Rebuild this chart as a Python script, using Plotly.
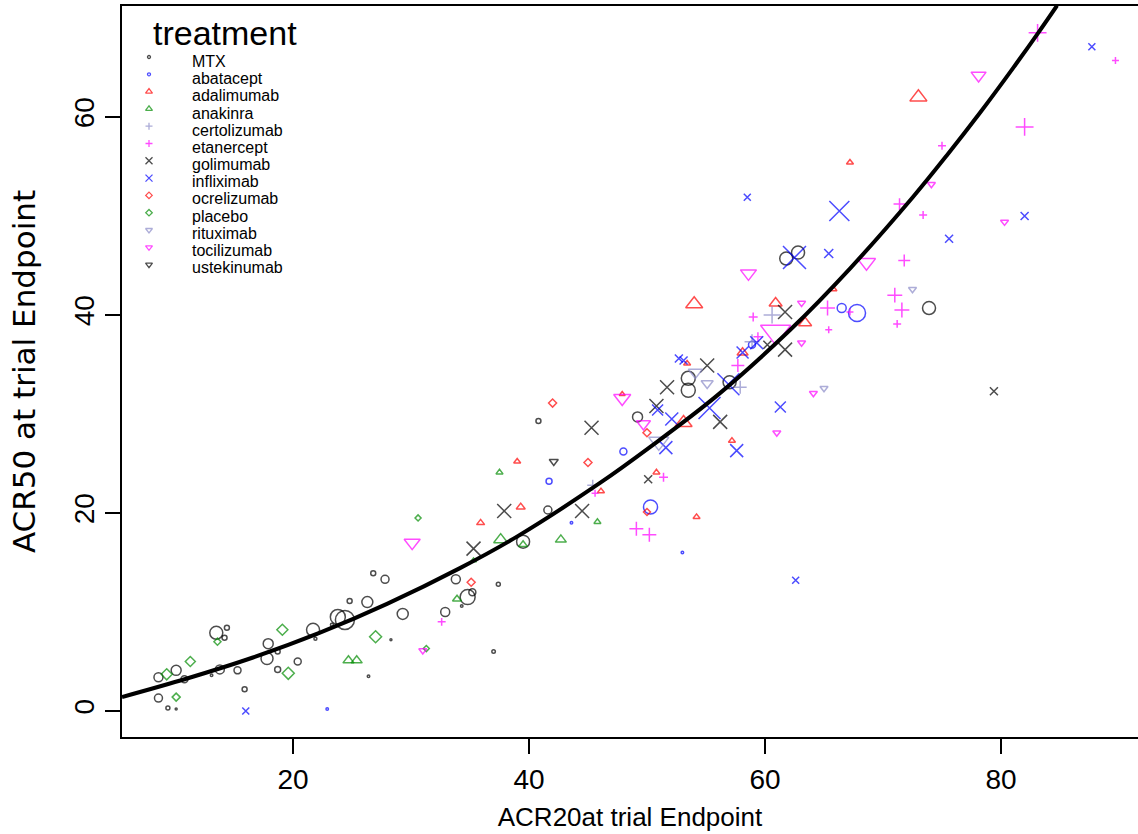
import plotly.graph_objects as go

# ---------------- data ----------------
treatments = ["MTX", "abatacept", "adalimumab", "anakinra", "certolizumab", "etanercept",
              "golimumab", "infliximab", "ocrelizumab", "placebo", "rituximab",
              "tocilizumab", "ustekinumab"]

# *_w : relative trial weight (drives symbol size)
mtx_x = [8.6, 8.6, 9.4, 10.1, 10.8, 13.5, 14.4, 14.2, 13.8, 15.3, 13.1, 15.9, 17.9, 18.7, 17.8,
         20.4, 18.7, 21.7, 21.9, 23.8, 24.4, 23.3, 24.8, 26.3, 26.8, 27.8, 29.3, 32.9, 28.3, 26.4,
         10.1, 33.8, 34.8, 35.2, 34.3, 37.4, 37.0, 39.5, 41.6, 40.8, 49.2, 53.5, 53.5, 57.0, 61.8,
         62.8, 73.9]
mtx_y = [3.4, 1.3, 0.3, 4.1, 3.2, 7.9, 8.4, 7.4, 4.2, 4.1, 3.6, 2.2, 6.8, 6.0, 5.3,
         5.0, 4.2, 8.2, 7.3, 9.5, 9.2, 8.7, 11.1, 11.0, 13.9, 13.3, 9.8, 10.0, 7.2, 3.5,
         0.2, 13.3, 11.5, 12.0, 10.6, 12.8, 6.0, 17.1, 20.3, 29.3, 29.7, 33.6, 32.4, 33.2, 45.7,
         46.3, 40.7]
mtx_w = [0.9, 0.8, 0.4, 1.0, 0.7, 1.3, 0.5, 0.5, 0.9, 0.7, 0.25, 0.5, 1.0, 0.5, 1.2,
         0.7, 0.6, 1.3, 0.3, 1.5, 1.9, 0.3, 0.5, 1.1, 0.5, 0.8, 1.1, 0.9, 0.2, 0.25,
         0.2, 0.9, 1.5, 0.7, 0.25, 0.4, 0.35, 1.3, 0.8, 0.5, 1.0, 1.4, 1.4, 1.3, 1.3,
         1.3, 1.3]

aba_x = [22.9, 41.7, 48.0, 43.6, 50.3, 53.0, 66.5, 67.8, 58.9]
aba_y = [0.2, 23.2, 26.2, 19.0, 20.6, 16.0, 40.7, 40.2, 37.0]
aba_w = [0.25, 0.6, 0.7, 0.25, 1.4, 0.25, 0.9, 1.7, 0.7]

ada_x = [35.9, 39.0, 39.3, 46.1, 47.9, 50.8, 54.2, 53.1, 53.4, 54.0, 57.2, 58.1, 60.9, 63.4, 65.8, 67.2, 73.0]
ada_y = [19.0, 25.2, 20.6, 22.2, 32.0, 24.1, 19.6, 29.1, 35.1, 41.1, 27.3, 36.2, 41.2, 39.2, 42.6, 55.4, 62.0]
ada_w = [0.8, 0.7, 0.9, 0.7, 0.6, 0.7, 0.7, 1.7, 0.7, 1.7, 0.7, 1.1, 1.3, 1.3, 0.7, 0.7, 1.7]

ana_x = [24.7, 25.4, 33.9, 35.3, 37.5, 37.6, 39.5, 42.7, 45.8]
ana_y = [5.1, 5.1, 11.3, 15.2, 24.1, 17.3, 16.8, 17.3, 19.1]
ana_w = [1.1, 1.1, 0.9, 0.6, 0.7, 1.4, 0.9, 1.1, 0.7]

cer_x = [45.4, 60.6, 58.9, 57.9]
cer_y = [22.8, 40.0, 37.3, 32.7]
cer_w = [1.1, 1.7, 1.5, 1.3]

eta_x = [32.6, 51.4, 45.6, 49.1, 50.2, 57.7, 59.0, 59.4, 65.3, 67.2, 65.4, 71.0, 71.6, 71.2,
         71.8, 71.4, 73.4, 75.0, 82.0, 83.1, 89.7]
eta_y = [9.0, 23.6, 22.0, 18.4, 17.8, 34.9, 39.8, 37.8, 40.7, 40.3, 38.5, 42.0, 40.5, 39.1,
         45.5, 51.2, 50.1, 57.1, 59.0, 68.5, 65.7]
eta_w = [0.8, 0.9, 0.7, 1.4, 1.4, 1.3, 0.9, 0.9, 1.5, 0.7, 0.7, 1.5, 1.5, 0.8,
         1.2, 1.2, 0.8, 0.8, 1.8, 1.8, 0.7]

gol_x = [35.3, 37.9, 44.5, 45.3, 50.1, 50.8, 51.7, 55.1, 56.2, 60.2, 61.7, 61.7, 79.4]
gol_y = [16.4, 20.2, 20.2, 28.6, 23.4, 30.8, 32.7, 34.9, 29.2, 37.0, 40.3, 36.5, 32.3]
gol_w = [1.4, 1.4, 1.4, 1.4, 0.8, 1.4, 1.4, 1.4, 1.4, 0.8, 1.4, 1.4, 0.8]

inf_x = [16.0, 50.9, 51.6, 52.1, 52.7, 53.1, 55.3, 56.9, 57.6, 58.1, 59.3, 58.5, 61.3, 62.6,
         62.5, 65.4, 66.3, 75.6, 82.0, 87.7]
inf_y = [0.0, 30.4, 26.6, 29.5, 35.6, 35.4, 30.6, 33.0, 26.3, 36.2, 37.2, 51.9, 30.7, 13.2,
         45.8, 46.2, 50.5, 47.7, 50.0, 67.1]
inf_w = [0.7, 1.1, 1.3, 1.3, 0.8, 0.8, 2.2, 2.2, 1.3, 1.2, 1.3, 0.7, 1.1, 0.7,
         2.3, 0.9, 2.0, 0.8, 0.8, 0.7]

ocr_x = [35.1, 42.0, 45.0, 50.0, 50.0]
ocr_y = [13.0, 31.1, 25.1, 28.1, 20.1]
ocr_w = [0.8, 0.8, 0.8, 0.8, 0.7]

pla_x = [9.3, 10.1, 11.3, 13.6, 19.1, 19.6, 27.0, 30.6, 31.3]
pla_y = [3.7, 1.4, 5.0, 7.0, 8.2, 3.8, 7.5, 19.5, 6.3]
pla_w = [1.1, 0.8, 1.0, 0.7, 1.1, 1.2, 1.2, 0.6, 0.6]

rit_x = [51.0, 54.1, 55.1, 72.5, 65.0]
rit_y = [27.2, 34.2, 33.1, 42.6, 32.6]
rit_w = [2.0, 1.4, 1.2, 0.8, 0.8]

toc_x = [30.1, 31.0, 47.9, 49.7, 58.6, 60.9, 61.0, 63.1, 63.1, 64.1, 68.6, 74.1, 78.1, 80.3]
toc_y = [17.0, 6.1, 31.6, 29.0, 44.2, 38.3, 28.1, 41.2, 37.2, 32.1, 45.3, 53.2, 64.2, 49.4]
toc_w = [1.6, 0.8, 1.7, 1.4, 1.6, 3.0, 0.8, 0.8, 0.8, 0.8, 1.8, 0.8, 1.5, 0.8]

ust_x = [42.1]
ust_y = [25.2]
ust_w = [0.9]

# fitted curve
curve_x = [5.51, 11.02, 16.61, 22.29, 27.97, 34.15, 38.98, 46.02, 50.25, 55.93, 62.12,
           67.20, 72.54, 75.42, 78.22, 81.02, 83.14, 84.75]
curve_y = [1.41, 3.28, 5.40, 7.91, 10.82, 14.43, 17.61, 23.03, 26.65, 31.85, 38.48,
           44.69, 51.92, 56.14, 60.43, 64.94, 68.48, 71.26]

x_ticks = [20, 40, 60, 80]
y_ticks = [0, 20, 40, 60]

# ---------------- styling ----------------
BLACK, BLUE, RED, GREEN = "#000000", "#0000FF", "#FF0000", "#008B00"
SLATE, MAGENTA = "#8A8AC8", "#FF00FF"

series = [
    (mtx_x, mtx_y, mtx_w, "circle-open", BLACK),
    (aba_x, aba_y, aba_w, "circle-open", BLUE),
    (ada_x, ada_y, ada_w, "triangle-up-open", RED),
    (ana_x, ana_y, ana_w, "triangle-up-open", GREEN),
    (cer_x, cer_y, cer_w, "cross-thin", SLATE),
    (eta_x, eta_y, eta_w, "cross-thin", MAGENTA),
    (gol_x, gol_y, gol_w, "x-thin", BLACK),
    (inf_x, inf_y, inf_w, "x-thin", BLUE),
    (ocr_x, ocr_y, ocr_w, "diamond-open", RED),
    (pla_x, pla_y, pla_w, "diamond-open", GREEN),
    (rit_x, rit_y, rit_w, "triangle-down-open", SLATE),
    (toc_x, toc_y, toc_w, "triangle-down-open", MAGENTA),
    (ust_x, ust_y, ust_w, "triangle-down-open", BLACK),
]
# pixel scale per unit weight, adjusted so each glyph's visual width matches
sym_scale = {"circle-open": 10.0, "triangle-up-open": 8.7, "triangle-down-open": 8.7,
             "cross-thin": 7.1, "x-thin": 10.0, "diamond-open": 7.7}

FONT = "Liberation Sans, Arial, sans-serif"

fig = go.Figure()

for name, (xs, ys, ws, sym, col) in zip(treatments, series):
    fig.add_trace(go.Scatter(
        x=xs, y=ys, mode="markers", name=name, showlegend=False,
        marker=dict(symbol=sym, size=[w * sym_scale[sym] for w in ws], color=col,
                    line=dict(color=col, width=1.5)),
        hoverinfo="x+y+name"))

fig.add_trace(go.Scatter(x=curve_x, y=curve_y, mode="lines",
                         line=dict(color="black", width=4, shape="spline", smoothing=1.0),
                         showlegend=False, hoverinfo="skip"))

# ---------------- hand-placed legend (pixel-unit overlay axes) ----------------
leg_sym_x, leg_sym_y0, leg_row = 149, 57, 17.3
leg_txt_x, leg_txt_y0 = 190, 61.5
leg_sizes = {"circle-open": 3, "triangle-up-open": 6, "triangle-down-open": 6,
             "cross-thin": 5, "x-thin": 7, "diamond-open": 5}
fig.add_trace(go.Scatter(
    x=[leg_sym_x] * len(treatments),
    y=[leg_sym_y0 + leg_row * i for i in range(len(treatments))],
    xaxis="x2", yaxis="y2", mode="markers", showlegend=False, hoverinfo="skip",
    marker=dict(symbol=[s[3] for s in series], size=[leg_sizes[s[3]] for s in series],
                color=[s[4] for s in series], line=dict(color=[s[4] for s in series], width=1.3))))

annotations = [dict(text="treatment", x=151, y=33, xref="x2", yref="y2", xanchor="left", yanchor="middle",
                    showarrow=False, font=dict(family=FONT, size=34, color="black"))]
for i, name in enumerate(treatments):
    annotations.append(dict(text=name, x=leg_txt_x, y=leg_txt_y0 + 17.17 * i, xref="x2", yref="y2",
                            xanchor="left", yanchor="middle", showarrow=False,
                            font=dict(family=FONT, size=16, color="black")))

fig.update_layout(
    width=1138, height=834,
    margin=dict(l=122, r=0, t=6, b=97),
    paper_bgcolor="white", plot_bgcolor="white",
    showlegend=False,
    annotations=annotations,
    xaxis=dict(range=[5.51, 91.61], tickvals=x_ticks, ticks="outside", ticklen=15, tickwidth=1.5,
               tickcolor="black", showline=True, linewidth=2, linecolor="black", mirror=True,
               showgrid=False, zeroline=False, tickfont=dict(family=FONT, size=28, color="black"),
               ticklabelstandoff=1,
               title=dict(text="ACR20at trial Endpoint", font=dict(family=FONT, size=26, color="black"),
                          standoff=14)),
    yaxis=dict(range=[-2.63, 71.21], tickvals=y_ticks, ticks="outside", ticklen=15, tickwidth=1.5,
               tickcolor="black", showline=True, linewidth=2, linecolor="black", mirror=False,
               showgrid=False, zeroline=False, tickangle=-90,
               tickfont=dict(family=FONT, size=28, color="black"),
               title=dict(text="ACR50 at trial Endpoint",
                          font=dict(family="DejaVu Sans, sans-serif", size=31, color="black"),
                          standoff=24)),
    xaxis2=dict(overlaying="x", range=[122, 1138], visible=False, fixedrange=True),
    yaxis2=dict(overlaying="y", range=[737, 6], visible=False, fixedrange=True),
)

fig.write_html("out.html", config={"displayModeBar": False},
               post_script="document.body.style.margin='0px';")
